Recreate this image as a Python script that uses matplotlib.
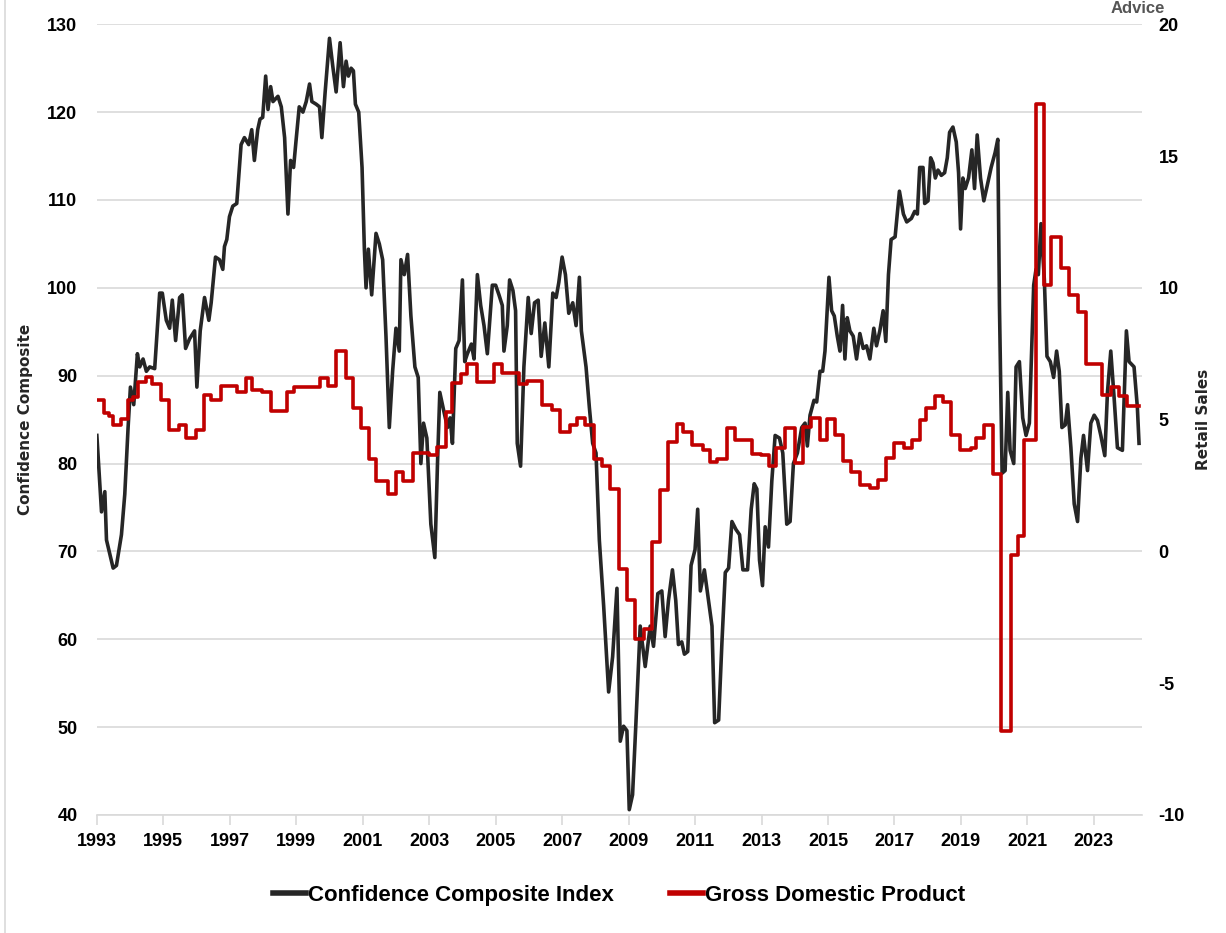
import matplotlib
matplotlib.use("Agg")
import matplotlib.pyplot as plt
from matplotlib.ticker import MultipleLocator

plt.rcParams['font.family'] = ['Liberation Sans Narrow', 'Liberation Sans', 'DejaVu Sans']
plt.rcParams['axes.unicode_minus'] = False

# Confidence Composite Index (left axis)
conf_years = [
    1993.00, 1993.14, 1993.24, 1993.29, 1993.49, 1993.59, 1993.74, 1993.84, 1993.94, 1994.01,
    1994.11, 1994.22, 1994.29, 1994.39, 1994.49, 1994.59, 1994.74, 1994.89, 1994.97, 1995.09,
    1995.19, 1995.27, 1995.37, 1995.49, 1995.57, 1995.67, 1995.79, 1995.94, 1996.01, 1996.11,
    1996.24, 1996.37, 1996.44, 1996.57, 1996.69, 1996.79, 1996.84, 1996.91, 1996.99, 1997.09,
    1997.21, 1997.34, 1997.44, 1997.57, 1997.66, 1997.74, 1997.84, 1997.91, 1997.99, 1998.08,
    1998.15, 1998.23, 1998.30, 1998.45, 1998.55, 1998.65, 1998.75, 1998.83, 1998.92, 1998.99,
    1999.09, 1999.20, 1999.30, 1999.40, 1999.47, 1999.60, 1999.70, 1999.77, 1999.87, 2000.00,
    2000.10, 2000.20, 2000.32, 2000.42, 2000.50, 2000.57, 2000.65, 2000.72, 2000.78, 2000.88,
    2000.98, 2001.05, 2001.10, 2001.17, 2001.27, 2001.40, 2001.50, 2001.60, 2001.70, 2001.80,
    2001.90, 2002.00, 2002.10, 2002.15, 2002.25, 2002.35, 2002.45, 2002.57, 2002.67, 2002.75,
    2002.83, 2002.93, 2003.05, 2003.17, 2003.25, 2003.32, 2003.45, 2003.55, 2003.63, 2003.70,
    2003.80, 2003.90, 2004.00, 2004.07, 2004.15, 2004.27, 2004.35, 2004.45, 2004.55, 2004.65,
    2004.75, 2004.90, 2005.00, 2005.10, 2005.20, 2005.25, 2005.35, 2005.42, 2005.52, 2005.60,
    2005.65, 2005.75, 2005.85, 2005.98, 2006.07, 2006.17, 2006.28, 2006.37, 2006.48, 2006.60,
    2006.72, 2006.82, 2006.90, 2007.00, 2007.10, 2007.20, 2007.32, 2007.42, 2007.52, 2007.58,
    2007.72, 2007.82, 2007.92, 2008.02, 2008.12, 2008.25, 2008.40, 2008.52, 2008.65, 2008.75,
    2008.85, 2008.95, 2009.02, 2009.12, 2009.22, 2009.35, 2009.50, 2009.65, 2009.75, 2009.88,
    2010.00, 2010.10, 2010.20, 2010.32, 2010.42, 2010.50, 2010.60, 2010.68, 2010.78, 2010.88,
    2011.00, 2011.08, 2011.16, 2011.28, 2011.51, 2011.59, 2011.71, 2011.81, 2011.91, 2012.01,
    2012.11, 2012.23, 2012.34, 2012.44, 2012.58, 2012.69, 2012.78, 2012.86, 2012.94, 2013.03,
    2013.11, 2013.21, 2013.31, 2013.41, 2013.54, 2013.64, 2013.76, 2013.86, 2013.96, 2014.08,
    2014.21, 2014.31, 2014.38, 2014.46, 2014.58, 2014.66, 2014.76, 2014.84, 2014.91, 2014.96,
    2015.03, 2015.11, 2015.19, 2015.28, 2015.36, 2015.44, 2015.51, 2015.58, 2015.66, 2015.76,
    2015.86, 2015.96, 2016.06, 2016.16, 2016.26, 2016.38, 2016.46, 2016.56, 2016.66, 2016.74,
    2016.82, 2016.90, 2017.02, 2017.15, 2017.27, 2017.37, 2017.51, 2017.61, 2017.69, 2017.76,
    2017.86, 2017.91, 2018.01, 2018.09, 2018.16, 2018.23, 2018.31, 2018.41, 2018.51, 2018.59,
    2018.66, 2018.76, 2018.86, 2018.93, 2018.99, 2019.06, 2019.13, 2019.23, 2019.33, 2019.41,
    2019.49, 2019.59, 2019.69, 2019.79, 2019.91, 2020.03, 2020.11, 2020.16, 2020.24, 2020.33,
    2020.41, 2020.48, 2020.59, 2020.66, 2020.76, 2020.86, 2020.96, 2021.06, 2021.19, 2021.26,
    2021.33, 2021.41, 2021.51, 2021.59, 2021.69, 2021.79, 2021.88, 2021.96, 2022.04, 2022.14,
    2022.21, 2022.31, 2022.41, 2022.51, 2022.61, 2022.69, 2022.81, 2022.91, 2023.01, 2023.11,
    2023.21, 2023.33, 2023.41, 2023.51, 2023.61, 2023.71, 2023.86, 2023.98, 2024.06, 2024.21,
    2024.31, 2024.36,
]
conf_values = [
    83.2, 74.5, 76.8, 71.3, 68.1, 68.4, 71.9, 76.5, 84.1, 88.7,
    86.7, 92.5, 91.0, 91.9, 90.5, 91.0, 90.8, 99.4, 99.4, 96.3,
    95.4, 98.6, 94.0, 98.9, 99.2, 93.1, 94.2, 95.1, 88.7, 95.1,
    98.9, 96.3, 98.3, 103.5, 103.2, 102.1, 104.7, 105.5, 108.1, 109.3,
    109.6, 116.3, 117.1, 116.3, 118.0, 114.5, 118.0, 119.2, 119.4, 124.1,
    120.3, 122.9, 121.2, 121.8, 120.6, 117.1, 108.4, 114.5, 113.7, 116.6,
    120.6, 120.0, 121.2, 123.2, 121.2, 120.9, 120.6, 117.1, 122.3, 128.4,
    125.2, 122.3, 127.9, 122.9, 125.8, 124.1, 125.0, 124.7, 120.9, 120.0,
    113.7, 104.4, 100.0, 104.4, 99.2, 106.2, 105.0, 103.2, 94.5, 84.1,
    90.5, 95.4, 92.8, 103.2, 101.5, 103.8, 96.8, 91.0, 89.8, 80.0,
    84.6, 82.9, 73.1, 69.3, 80.0, 88.1, 85.8, 84.1, 85.2, 82.3,
    93.1, 94.0, 100.9, 91.6, 92.5, 93.6, 91.9, 101.5, 98.0, 95.7,
    92.5, 100.3, 100.3, 99.2, 98.0, 92.8, 95.7, 100.9, 99.7, 97.4,
    82.3, 79.7, 91.0, 98.9, 94.8, 98.3, 98.6, 92.2, 96.0, 91.0,
    99.4, 98.9, 100.6, 103.5, 101.5, 97.1, 98.3, 95.7, 101.2, 95.1,
    91.0, 86.4, 82.3, 81.2, 71.3, 63.8, 54.0, 58.0, 65.8, 48.4,
    50.1, 49.6, 40.6, 42.3, 50.4, 61.5, 56.9, 61.5, 59.2, 65.2,
    65.5, 60.3, 64.4, 67.9, 64.4, 59.4, 59.7, 58.3, 58.6, 68.4,
    70.2, 74.8, 65.5, 67.9, 61.5, 50.5, 50.8, 59.7, 67.6, 68.1,
    73.4, 72.5, 71.9, 67.9, 67.9, 74.8, 77.7, 77.1, 69.0, 66.1,
    72.8, 70.5, 78.0, 83.2, 82.9, 81.2, 73.1, 73.4, 80.0, 81.2,
    84.1, 84.6, 82.0, 85.5, 87.2, 87.0, 90.5, 90.5, 92.8, 96.3,
    101.2, 97.4, 96.8, 94.5, 92.8, 98.0, 91.9, 96.6, 95.1, 94.5,
    91.9, 94.8, 93.1, 93.4, 91.9, 95.4, 93.4, 95.1, 97.4, 93.9,
    101.5, 105.5, 105.8, 111.0, 108.4, 107.5, 107.9, 108.7, 108.4, 113.7,
    113.7, 109.6, 109.9, 114.8, 114.2, 112.5, 113.4, 112.8, 113.1, 114.8,
    117.7, 118.3, 116.6, 113.1, 106.7, 112.5, 111.3, 112.5, 115.7, 111.3,
    117.4, 112.5, 109.9, 111.6, 113.7, 115.4, 116.9, 98.0, 78.9, 79.2,
    88.1, 81.5, 80.0, 91.0, 91.6, 85.2, 83.2, 84.6, 100.3, 102.1,
    101.5, 107.3, 101.0, 92.2, 91.6, 89.8, 92.8, 90.5, 84.1, 84.4,
    86.7, 81.8, 75.4, 73.4, 80.6, 83.2, 79.2, 84.6, 85.5, 84.9,
    83.2, 80.9, 88.1, 92.8, 87.5, 81.8, 81.5, 95.1, 91.6, 91.0,
    86.4, 82.3,
]

# Gross Domestic Product (right axis), step series: start of each step and its level
gdp_years = [
    1993.00, 1993.20, 1993.38, 1993.48, 1993.73, 1993.93, 1994.08, 1994.23, 1994.48, 1994.66,
    1994.93, 1995.18, 1995.48, 1995.68, 1995.98, 1996.23, 1996.43, 1996.73, 1997.23, 1997.48,
    1997.68, 1997.98, 1998.23, 1998.73, 1998.93, 1999.70, 1999.95, 2000.20, 2000.50, 2000.70,
    2000.95, 2001.20, 2001.40, 2001.75, 2002.00, 2002.20, 2002.50, 2003.00, 2003.25, 2003.50,
    2003.70, 2003.95, 2004.15, 2004.45, 2004.95, 2005.20, 2005.70, 2005.95, 2006.40, 2006.70,
    2006.95, 2007.25, 2007.45, 2007.70, 2007.95, 2008.20, 2008.45, 2008.70, 2008.95, 2009.20,
    2009.45, 2009.70, 2009.95, 2010.20, 2010.45, 2010.65, 2010.90, 2011.25, 2011.45, 2011.65,
    2011.95, 2012.20, 2012.70, 2012.98, 2013.24, 2013.45, 2013.70, 2014.00, 2014.24, 2014.50,
    2014.75, 2014.98, 2015.20, 2015.45, 2015.70, 2015.96, 2016.26, 2016.50, 2016.74, 2017.00,
    2017.30, 2017.53, 2017.76, 2017.96, 2018.21, 2018.46, 2018.71, 2018.96, 2019.31, 2019.46,
    2019.71, 2019.96, 2020.21, 2020.51, 2020.71, 2020.91, 2021.26, 2021.49, 2021.71, 2022.01,
    2022.26, 2022.51, 2022.76, 2023.26, 2023.51, 2023.76, 2024.01, 2024.37,
]
gdp_values = [
    5.76, 5.24, 5.12, 4.79, 5.04, 5.76, 5.85, 6.43, 6.63, 6.34,
    5.76, 4.60, 4.79, 4.31, 4.60, 5.95, 5.76, 6.28, 6.05, 6.59,
    6.14, 6.05, 5.31, 6.05, 6.22, 6.57, 6.28, 7.59, 6.57, 5.43,
    4.70, 3.50, 2.67, 2.18, 3.00, 2.67, 3.73, 3.64, 3.96, 5.28,
    6.40, 6.73, 7.11, 6.43, 7.11, 6.78, 6.34, 6.47, 5.57, 5.37,
    4.54, 4.79, 5.08, 4.79, 3.50, 3.25, 2.38, -0.68, -1.84, -3.32,
    -2.94, 0.35, 2.34, 4.15, 4.85, 4.54, 4.02, 3.83, 3.38, 3.50,
    4.70, 4.21, 3.69, 3.64, 3.25, 3.92, 4.70, 3.34, 4.73, 5.08,
    4.21, 5.04, 4.41, 3.44, 3.00, 2.53, 2.42, 2.72, 3.54, 4.12,
    3.92, 4.21, 4.99, 5.43, 5.89, 5.66, 4.41, 3.83, 3.92, 4.31,
    4.79, 2.92, -6.80, -0.14, 0.60, 4.21, 16.97, 10.10, 11.94, 10.74,
    9.72, 9.10, 7.11, 5.95, 6.24, 5.89, 5.53, 5.53,
]

year_ticks = list(range(1993, 2025, 2))

fig = plt.figure(figsize=(12.26, 9.33), dpi=100)
ax = fig.add_axes([0.079, 0.1265, 0.8525, 0.8475])

ax.plot(conf_years, conf_values, color="#262626", lw=2.6, solid_joinstyle="round",
        label="Confidence Composite Index")
ax.set_ylim(40, 130)
ax.set_xlim(1993, 2024.45)
ax.yaxis.set_major_locator(MultipleLocator(10))
ax.set_xticks(year_ticks)
ax.grid(axis="y", color="#d9d9d9", lw=1.2)
ax.set_axisbelow(True)
for s in ["top", "right", "left"]:
    ax.spines[s].set_visible(False)
ax.spines["bottom"].set_color("#d9d9d9")
ax.spines["bottom"].set_linewidth(1.2)
ax.tick_params(axis="x", length=7, color="#d9d9d9", width=1.2, pad=6,
               labelsize=13, labelcolor="black")
ax.tick_params(axis="y", length=0, pad=14, labelsize=13, labelcolor="black")
for lbl in ax.get_xticklabels() + ax.get_yticklabels():
    lbl.set_fontweight("bold")
ax.set_ylabel("Confidence Composite", fontsize=11, fontweight="bold",
              color="#262626", labelpad=10, family=["DejaVu Sans"])

ax2 = ax.twinx()
ax2.plot(gdp_years, gdp_values, color="#c00000", lw=2.6, drawstyle="steps-post",
         label="Gross Domestic Product")
ax2.set_ylim(-10, 20)
ax2.yaxis.set_major_locator(MultipleLocator(5))
for s in ["top", "right", "left", "bottom"]:
    ax2.spines[s].set_visible(False)
ax2.tick_params(axis="y", length=0, pad=12, labelsize=13, labelcolor="black")
for lbl in ax2.get_yticklabels():
    lbl.set_fontweight("bold")
ax2.set_ylabel("Retail Sales", fontsize=11, fontweight="bold", color="#262626",
               labelpad=8, family=["DejaVu Sans"])

h1, l1 = ax.get_legend_handles_labels()
h2, l2 = ax2.get_legend_handles_labels()
leg = fig.legend(h1 + h2, l1 + l2, loc="center", bbox_to_anchor=(0.505, 0.04), ncol=2,
                 frameon=False, handlelength=1.5, handletextpad=0.1, columnspacing=2.5,
                 prop={"size": 16, "weight": "bold"})
for line in leg.get_lines():
    line.set_linewidth(4)

# watermark text at the top edge
fig.text(0.95, 0.999, "Advice", fontsize=12, fontweight="bold", color="#555555",
         ha="right", va="top")

# thin frame line on the left edge
fig.add_artist(plt.Line2D([0.004, 0.004], [0.0, 1.0], color="#d9d9d9", lw=1.2))

fig.savefig("out.png", dpi=100)
